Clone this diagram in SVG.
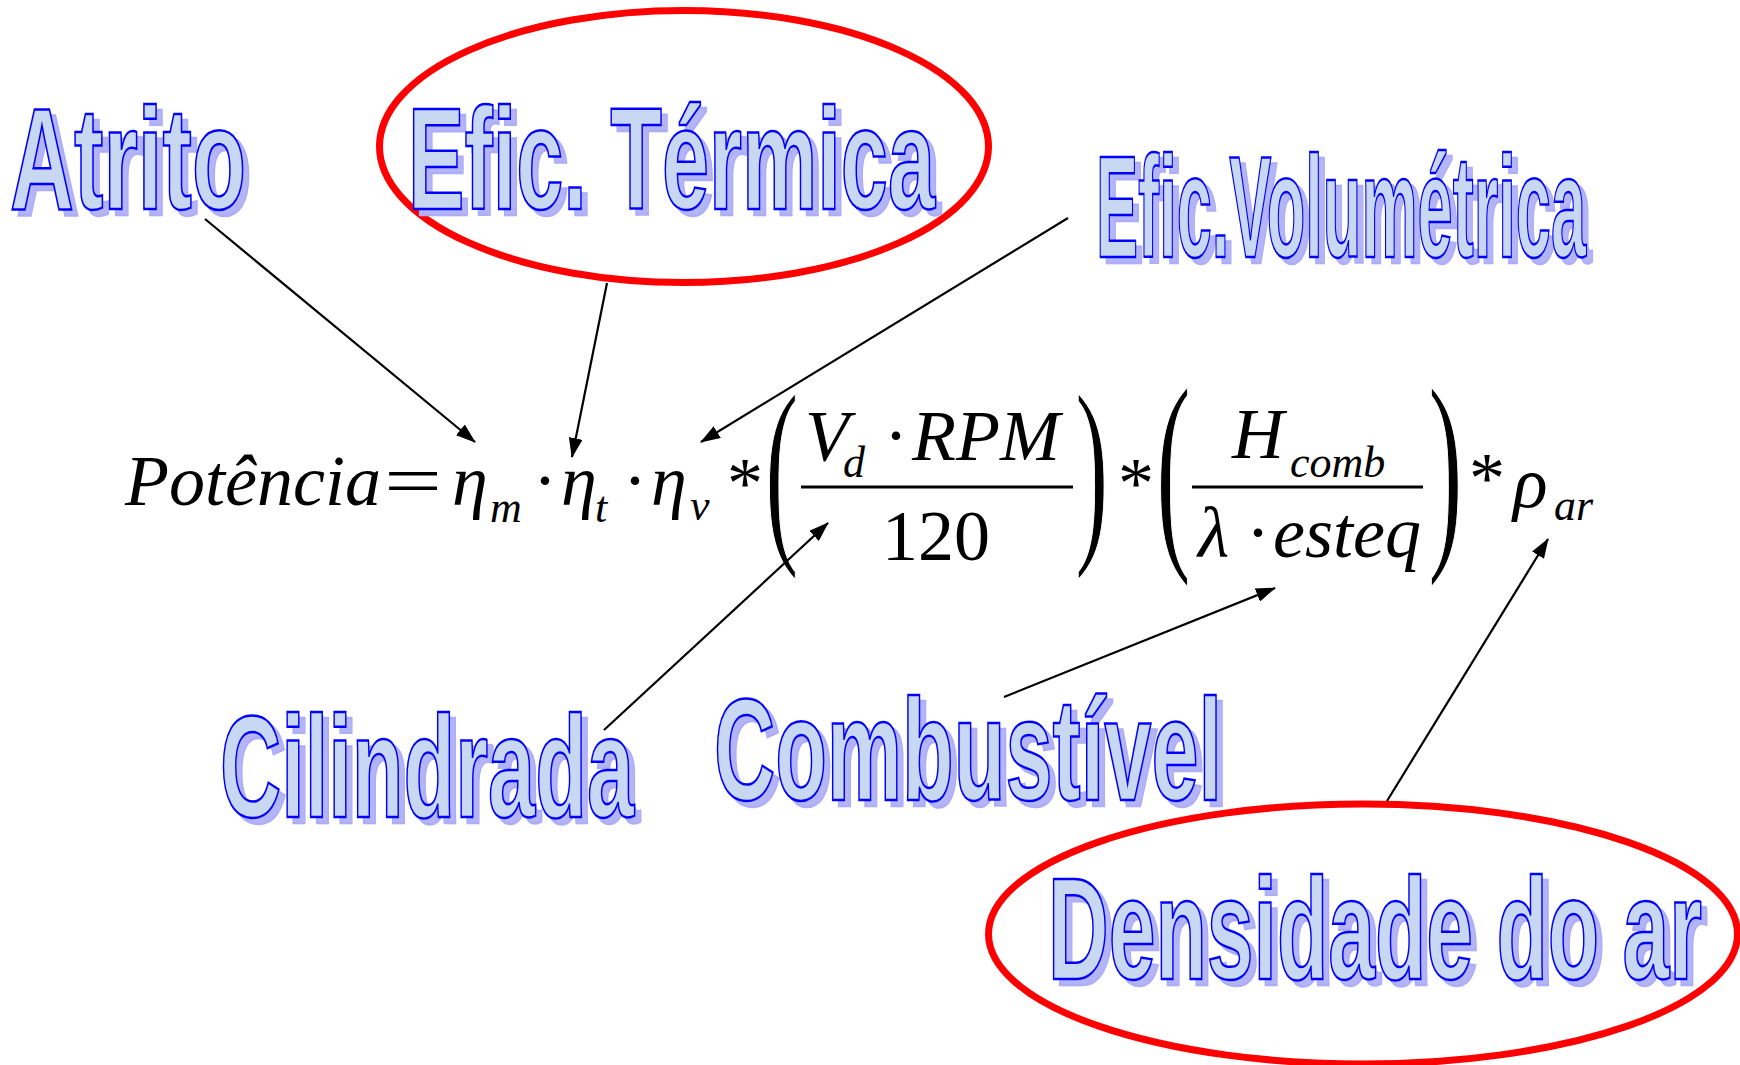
<svg xmlns="http://www.w3.org/2000/svg" width="1740" height="1065" viewBox="0 0 1740 1065">
<style>
.wa{font-family:"Liberation Sans Narrow","Liberation Sans",Arial,sans-serif;font-weight:bold;font-size:145px}
.sh{fill:#b4b4f8;stroke:#aeaef6;stroke-width:2.5}
.mn{fill:#c8d8f2;stroke:#0000ff;stroke-width:2.5}
.ring{fill:none;stroke:#ff0000;stroke-width:7}
.eq{font-family:"Liberation Serif","Times New Roman",serif;font-size:72px;fill:#000}
.it{font-style:italic}
.sub{font-family:"Liberation Serif","Times New Roman",serif;font-size:44px;font-style:italic;fill:#000}
.par{stroke:#fff;stroke-width:1.4;vector-effect:non-scaling-stroke}
.conn line{stroke:#000;stroke-width:2.2;marker-end:url(#ah)}
.bar{stroke:#000;stroke-width:3}
</style>
<defs>
<marker id="ah" markerUnits="userSpaceOnUse" markerWidth="20" markerHeight="14" refX="19" refY="7" orient="auto">
<path d="M0,0 L20,7 L0,14 z" fill="#000"/>
</marker>
</defs>
<rect width="1740" height="1065" fill="#fff"/>

<g id="ring-termica"><ellipse class="ring" cx="684" cy="146.5" rx="304.5" ry="136"/></g>
<g id="ring-densidade"><ellipse class="ring" cx="1363" cy="934" rx="374.5" ry="130"/></g>

<g id="atrito">
<text class="wa sh" x="16" y="215" textLength="236" lengthAdjust="spacingAndGlyphs">Atrito</text>
<text class="wa mn" x="10" y="209" textLength="236" lengthAdjust="spacingAndGlyphs">Atrito</text>
</g>
<g id="efic-termica">
<text class="wa sh" x="414" y="215" textLength="527" lengthAdjust="spacingAndGlyphs">Efic. Térmica</text>
<text class="wa mn" x="408" y="209" textLength="527" lengthAdjust="spacingAndGlyphs">Efic. Térmica</text>
</g>
<g id="efic-volumetrica">
<text class="wa sh" x="1102" y="263" textLength="490" lengthAdjust="spacingAndGlyphs">Efic.Volumétrica</text>
<text class="wa mn" x="1096" y="257" textLength="490" lengthAdjust="spacingAndGlyphs">Efic.Volumétrica</text>
</g>
<g id="cilindrada">
<text class="wa sh" x="226" y="823" textLength="414" lengthAdjust="spacingAndGlyphs">Cilindrada</text>
<text class="wa mn" x="220" y="817" textLength="414" lengthAdjust="spacingAndGlyphs">Cilindrada</text>
</g>
<g id="combustivel">
<text class="wa sh" x="720" y="806" textLength="508" lengthAdjust="spacingAndGlyphs">Combustível</text>
<text class="wa mn" x="714" y="800" textLength="508" lengthAdjust="spacingAndGlyphs">Combustível</text>
</g>
<g id="densidade">
<text class="wa sh" x="1054" y="985" textLength="654" lengthAdjust="spacingAndGlyphs">Densidade do ar</text>
<text class="wa mn" x="1048" y="979" textLength="654" lengthAdjust="spacingAndGlyphs">Densidade do ar</text>
</g>

<g id="formula">
<text class="eq it" x="125" y="505">Potência</text>
<text class="eq" x="384" y="505" textLength="58" lengthAdjust="spacingAndGlyphs">=</text>
<text class="eq it" x="452" y="505">η</text>
<text class="sub" x="490" y="522">m</text>
<text class="eq" x="533" y="505">·</text>
<text class="eq it" x="561" y="505">η</text>
<text class="sub" x="595" y="522">t</text>
<text class="eq" x="623" y="505">·</text>
<text class="eq it" x="651" y="505">η</text>
<text class="sub" x="690" y="520">v</text>
<text class="eq" x="727" y="507">*</text>
<text class="eq par" transform="translate(765,0) scale(1.4,2.85)" x="0" y="188">(</text>
<text class="eq it" x="805" y="460">V</text>
<text class="sub" x="843" y="477">d</text>
<text class="eq" x="884" y="460">·</text>
<text class="eq it" x="912" y="460">RPM</text>
<line class="bar" x1="801" y1="487" x2="1073" y2="487"/>
<text class="eq" x="882" y="560">120</text>
<text class="eq par" transform="translate(1075,0) scale(1.4,2.85)" x="0" y="188">)</text>
<text class="eq" x="1118" y="507">*</text>
<text class="eq par" transform="translate(1156,0) scale(1.45,3.05)" x="0" y="177">(</text>
<text class="eq it" x="1232" y="458">H</text>
<text class="sub" x="1290" y="477">comb</text>
<line class="bar" x1="1192" y1="487" x2="1423" y2="487"/>
<text class="eq it" x="1198" y="557">λ</text>
<text class="eq" x="1246" y="557">·</text>
<text class="eq it" x="1273" y="557">esteq</text>
<text class="eq par" transform="translate(1428,0) scale(1.45,3.05)" x="0" y="177">)</text>
<text class="eq" x="1469" y="502">*</text>
<text class="eq it" x="1513" y="507" font-size="78">ρ</text>
<text class="sub" x="1554" y="520">ar</text>
</g>

<g id="connectors" class="conn">
<line x1="205" y1="219" x2="475" y2="442"/>
<line x1="607" y1="283" x2="572" y2="457"/>
<line x1="1068" y1="218" x2="701" y2="442"/>
<line x1="604" y1="730" x2="828" y2="523"/>
<line x1="1004" y1="697" x2="1275" y2="588"/>
<line x1="1387" y1="801" x2="1548" y2="539"/>
</g>
</svg>
